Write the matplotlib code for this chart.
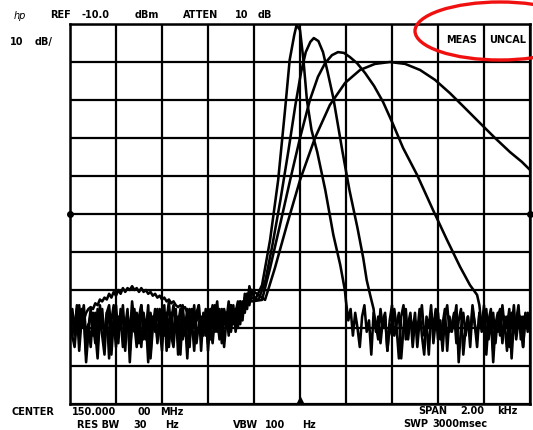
import numpy as np
import matplotlib.pyplot as plt
from matplotlib.patches import Ellipse

# spectrum analyzer screen: REF -10 dBm, 10 dB/div, 2 kHz span around 150 MHz
# x values are offsets from center in Hz, y values in dBm
left_f = np.arange(-1000, -200, 10)

# noise floor left of the filters (one list per trace, 10 Hz steps)
noise_left_1 = [-88, -85, -91, -84, -93, -87, -86, -97, -90, -85,
                -92, -86, -95, -84, -89, -91, -86, -98, -88, -84,
                -90, -94, -85, -87, -96, -86, -92, -83, -89, -95,
                -87, -84, -93, -88, -99, -86, -90, -85, -94, -87,
                -91, -84, -96, -88, -86, -93, -85, -97, -89, -84,
                -92, -87, -95, -85, -90, -88, -84, -96, -86, -91,
                -85, -93, -87, -84, -90, -86, -94, -85, -88, -83,
                -91, -85, -87, -84, -89, -83, -86, -81, -84, -80]
noise_left_2 = [-93, -87, -90, -85, -96, -88, -84, -92, -89, -95,
                -86, -91, -98, -87, -85, -93, -89, -86, -97, -88,
                -84, -92, -87, -95, -90, -85, -99, -88, -91, -86,
                -94, -84, -89, -93, -86, -97, -87, -91, -85, -90,
                -96, -86, -88, -83, -92, -95, -87, -89, -85, -93,
                -88, -98, -86, -90, -84, -94, -89, -87, -92, -85,
                -96, -88, -84, -91, -87, -93, -85, -89, -86, -92,
                -84, -88, -85, -90, -83, -87, -82, -85, -79, -82]
noise_left_3 = [-86, -92, -95, -88, -84, -90, -87, -99, -91, -86,
                -89, -94, -85, -88, -92, -97, -86, -84, -91, -88,
                -95, -87, -90, -84, -93, -86, -96, -89, -85, -92,
                -88, -95, -86, -91, -84, -98, -90, -87, -93, -85,
                -89, -92, -86, -95, -88, -84, -91, -87, -97, -86,
                -90, -85, -93, -88, -96, -86, -84, -92, -89, -87,
                -94, -85, -90, -87, -83, -92, -86, -95, -88, -85,
                -89, -84, -91, -86, -83, -88, -81, -84, -80, -83]
noise_left_4 = [-90, -86, -92, -87, -89, -85, -88, -86,
                -85, -84.5, -85, -83.5, -84, -82.5, -83, -82,
                -82.5, -81, -82, -80.5, -81.5, -80, -81, -79.5,
                -80.5, -79.5, -80, -79, -80, -79.5, -80.5, -79.5,
                -80.5, -80, -81, -80.5, -81.5, -81, -82, -81.5,
                -82.5, -82, -83, -82.5, -83.5, -83, -84, -84.5,
                -84, -85, -84.5, -86, -85, -87, -85.5, -88,
                -86, -90, -87, -92, -86, -89, -94, -87,
                -91, -85, -93, -88, -86, -90, -84, -89,
                -86, -83, -88, -84, -85, -81, -83, -80]

# filter responses (narrowest to widest)
trace1_f = [-195, -165, -130, -95, -65, -45, -25, -15, 0, 15, 30, 50, 75, 110, 145, 175, 195]
trace1_db = [-82.6, -78.7, -66.8, -51.1, -32.6, -19.5, -12.9, -10.3, -11.6, -19.5,
             -30.0, -37.9, -43.7, -53.7, -65.5, -73.4, -80.0]

trace2_f = [-180, -150, -120, -85, -50, -20, 5, 25, 45, 60, 80, 100, 120, 145, 165,
            185, 215, 250, 275, 290, 305]
trace2_db = [-82.6, -77.4, -68.2, -56.3, -43.2, -31.3, -22.6, -17.4, -14.7, -13.7,
             -14.5, -17.4, -22.6, -29.5, -36.6, -43.7, -53.7, -63.7, -71.6, -77.4, -81.3]

trace3_f = [-165, -130, -87, -43, 0, 43, 78, 109, 139, 165, 191, 217, 248, 283, 322,
            361, 404, 448, 509, 578, 639, 696, 739, 770]
trace3_db = [-82.6, -74.2, -62.9, -51.1, -40.0, -30.0, -23.9, -20.3, -18.2, -17.4,
             -17.6, -18.7, -20.3, -22.9, -26.3, -30.5, -36.3, -42.6, -49.7, -58.9,
             -66.8, -73.9, -78.7, -81.3]

trace4_f = [-152, -109, -57, 0, 65, 130, 196, 261, 326, 391, 457, 522, 587, 652, 717,
            783, 848, 913, 965, 1000]
trace4_db = [-82.6, -74.2, -62.9, -51.1, -40.0, -31.3, -25.5, -22.1, -20.5, -20.0,
             -20.5, -22.1, -24.7, -28.2, -32.1, -36.1, -40.0, -43.7, -46.3, -48.4]

# noise floor right of the filters
right_f_1 = np.arange(200, 1001, 10)
noise_right_1 = [-83, -88, -85, -92, -86, -90, -95, -87, -84, -91,
                 -88, -97, -86, -89, -93, -85, -90, -87, -96, -88,
                 -84, -92, -89, -86, -98, -90, -85, -93, -87, -91,
                 -86, -95, -88, -84, -92, -89, -97, -86, -90, -85,
                 -93, -88, -96, -87, -84, -91, -89, -86, -94, -88,
                 -85, -97, -90, -87, -92, -84, -89, -95, -86, -91,
                 -88, -85, -93, -87, -99, -89, -86, -92, -84, -90,
                 -87, -95, -86, -91, -88, -84, -93, -87, -90, -86,
                 -89]
right_f_2 = np.arange(320, 1001, 10)
noise_right_2 = [-85, -91, -87, -94, -88, -86, -96, -89, -92, -85,
                 -90, -98, -87, -84, -93, -89, -86, -95, -88, -91,
                 -85, -92, -97, -87, -90, -84, -94, -88, -86, -93,
                 -89, -85, -96, -87, -91, -88, -84, -99, -90, -86,
                 -92, -87, -95, -85, -89, -93, -86, -90, -84, -97,
                 -88, -91, -86, -94, -87, -85, -92, -89, -96, -86,
                 -90, -84, -93, -88, -87, -95, -86, -91, -89]
right_f_3 = np.arange(780, 1001, 10)
noise_right_3 = [-84, -90, -86, -93, -88, -85, -96, -89, -91, -86,
                 -94, -87, -90, -85, -98, -88, -92, -86, -89, -95,
                 -87, -90, -86]

W, H = 533, 430
fig = plt.figure(figsize=(W / 100, H / 100), dpi=100)
fig.patch.set_facecolor('white')
ax = fig.add_axes([70 / W, 1 - 404 / H, 460 / W, 380 / H])

# build each full sweep
sweeps = [
    (list(left_f) + trace1_f + list(right_f_1), noise_left_1 + trace1_db + noise_right_1),
    (list(left_f) + trace2_f + list(right_f_2), noise_left_2 + trace2_db + noise_right_2),
    (list(left_f) + trace3_f + list(right_f_3), noise_left_3 + trace3_db + noise_right_3),
    (list(left_f) + trace4_f, noise_left_4 + trace4_db),
]
for f, db in sweeps:
    ax.plot(f, db, color='black', lw=1.85, solid_joinstyle='round', zorder=3)

ax.set_xlim(-1000, 1000)
ax.set_ylim(-110, -10)
ax.set_xticks(np.arange(-1000, 1001, 200))
ax.set_yticks(np.arange(-110, -9, 10))
ax.grid(True, color='black', lw=1.6)
ax.set_axisbelow(True)
ax.tick_params(length=0, labelbottom=False, labelleft=False)
for s in ax.spines.values():
    s.set_linewidth(1.8)

# center markers on the graticule
ax.plot([-1000, 1000], [-60, -60], 'o', color='black', ms=4, clip_on=False, zorder=4)
ax.plot(0, -109, marker='^', color='black', ms=4, clip_on=False, zorder=4)


def label(x, y, s, **kw):
    fig.text(x / W, 1 - y / H, s, fontsize=7, fontweight='bold', va='center',
             family='DejaVu Sans', **kw)


fig.text(14 / W, 1 - 16 / H, 'hp', fontsize=7, style='italic', va='center')
label(50, 15, 'REF')
label(82, 15, '-10.0')
label(135, 15, 'dBm')
label(183, 15, 'ATTEN')
label(235, 15, '10')
label(258, 15, 'dB')
label(10, 42, '10')
label(35, 42, 'dB/')
label(446, 40, 'MEAS')
label(489, 40, 'UNCAL')
label(12, 412, 'CENTER')
label(72, 412, '150.000')
label(137, 412, '00')
label(160, 412, 'MHz')
label(418, 411, 'SPAN')
label(460, 411, '2.00')
label(497, 411, 'kHz')
label(77, 425, 'RES BW')
label(133, 425, '30')
label(165, 425, 'Hz')
label(233, 425, 'VBW')
label(265, 425, '100')
label(302, 425, 'Hz')
label(403, 424, 'SWP')
label(432, 424, '3000msec')

# red highlight around the MEAS UNCAL warning
fig.add_artist(Ellipse((500 / W, 1 - 31 / H), 170 / W, 58 / H, fill=False,
                       edgecolor='#f01010', lw=2.4, transform=fig.transFigure))

fig.savefig('out.png', dpi=100)
